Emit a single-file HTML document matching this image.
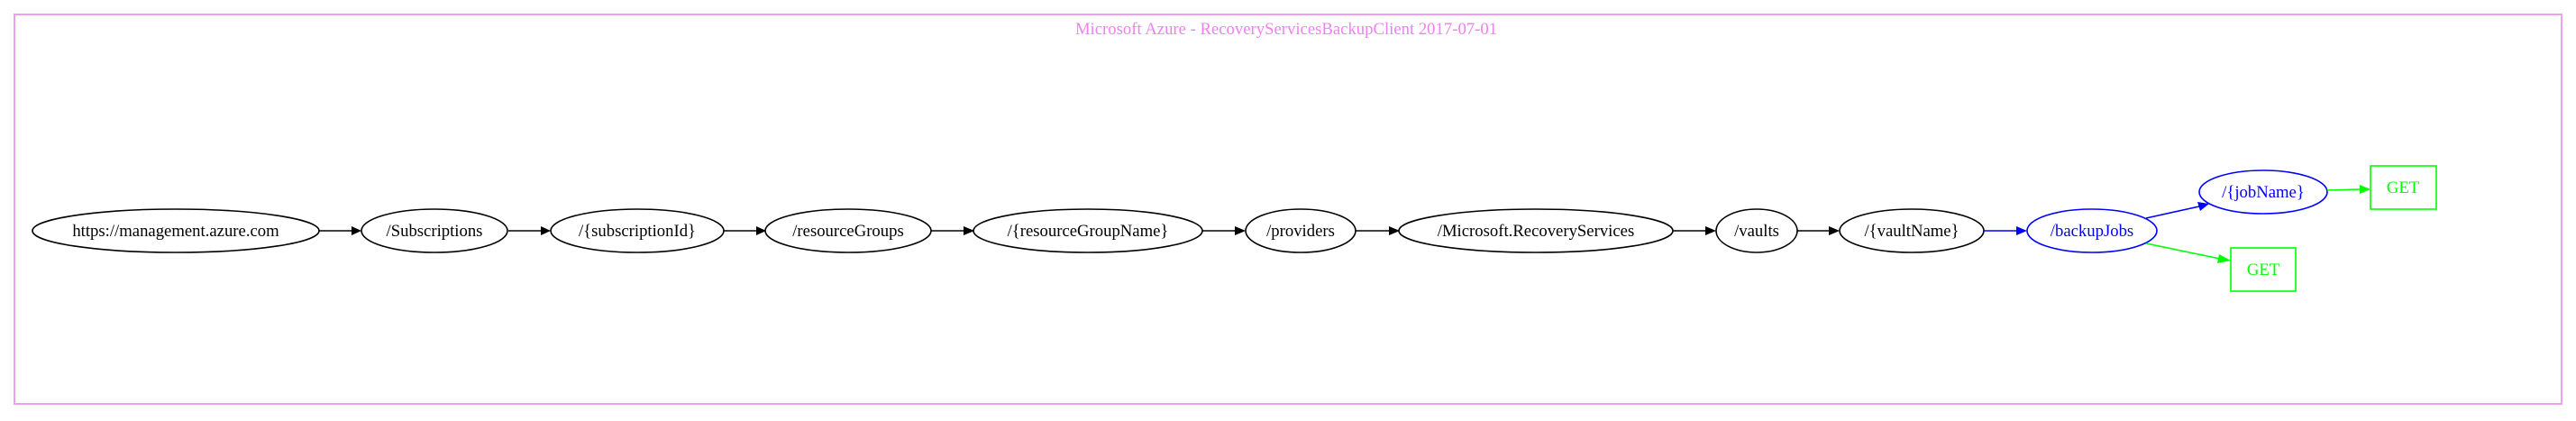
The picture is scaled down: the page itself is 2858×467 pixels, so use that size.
<!DOCTYPE html>
<html><head><meta charset="utf-8"><style>
html,body{margin:0;padding:0;background:#fff;}
svg{display:block;}
text{font-family:"Liberation Serif",serif;font-size:18.7px;}
</style></head><body>
<svg width="2858" height="467" viewBox="0 0 2858 467" xmlns="http://www.w3.org/2000/svg">
<defs>
<marker id="ab" markerWidth="10" markerHeight="8" refX="10" refY="4" orient="auto" markerUnits="userSpaceOnUse" viewBox="0 0 10 8"><path d="M0,0 L10,4 L0,8 z" fill="#000"/></marker>
</defs>
<rect x="16" y="16" width="2826" height="432" fill="none" stroke="#f0a0f0" stroke-width="2"/>
<text x="1427" y="38" text-anchor="middle" fill="#f080f0">Microsoft Azure - RecoveryServicesBackupClient 2017-07-01</text>
<g fill="none" stroke="#000" stroke-width="1.6">
<ellipse cx="195" cy="256" rx="159" ry="24"/>
<ellipse cx="482" cy="256" rx="81" ry="24"/>
<ellipse cx="707" cy="256" rx="96" ry="24"/>
<ellipse cx="941" cy="256" rx="92" ry="24"/>
<ellipse cx="1207" cy="256" rx="127" ry="24"/>
<ellipse cx="1443" cy="256" rx="61" ry="24"/>
<ellipse cx="1704" cy="256" rx="152" ry="24"/>
<ellipse cx="1949" cy="256" rx="45" ry="24"/>
<ellipse cx="2121" cy="256" rx="80" ry="24"/>
</g>
<g stroke="#0000ff" stroke-width="1.6" fill="none">
<ellipse cx="2321" cy="256" rx="72" ry="24"/>
<ellipse cx="2511" cy="213" rx="71" ry="24"/>
</g>
<g stroke="#00ff00" stroke-width="1.6" fill="none">
<rect x="2630" y="184" width="73" height="48"/>
<rect x="2475" y="275" width="72" height="48"/>
</g>
<g stroke="#000" stroke-width="1.6">
<line x1="354" y1="256" x2="390" y2="256"/>
<line x1="564" y1="256" x2="600" y2="256"/>
<line x1="803" y1="256" x2="839" y2="256"/>
<line x1="1033" y1="256" x2="1069" y2="256"/>
<line x1="1334" y1="256" x2="1370" y2="256"/>
<line x1="1504" y1="256" x2="1541" y2="256"/>
<line x1="1856" y1="256" x2="1892" y2="256"/>
<line x1="1994" y1="256" x2="2029" y2="256"/>
</g>
<g fill="#000">
<path d="M390,251 L401,256 L390,261 z"/>
<path d="M600,251 L611,256 L600,261 z"/>
<path d="M839,251 L850,256 L839,261 z"/>
<path d="M1069,251 L1081,256 L1069,261 z"/>
<path d="M1370,251 L1382,256 L1370,261 z"/>
<path d="M1541,251 L1553,256 L1541,261 z"/>
<path d="M1892,251 L1904,256 L1892,261 z"/>
<path d="M2029,251 L2041,256 L2029,261 z"/>
</g>
<line x1="2201" y1="256" x2="2237" y2="256" stroke="#0000ff" stroke-width="1.6"/>
<path d="M2237,251 L2249,256 L2237,261 z" fill="#0000ff"/>
<line x1="2381" y1="242" x2="2440" y2="229" stroke="#0000ff" stroke-width="1.6"/>
<path d="M2438,224 L2451,226 L2441,234 z" fill="#0000ff"/>
<line x1="2381" y1="270" x2="2463" y2="287" stroke="#00ff00" stroke-width="1.6"/>
<path d="M2462,282 L2475,289 L2460,292 z" fill="#00ff00"/>
<line x1="2582" y1="211" x2="2618" y2="210" stroke="#00ff00" stroke-width="1.6"/>
<path d="M2618,205 L2630,210 L2618,215 z" fill="#00ff00"/>
<g text-anchor="middle">
<text x="195" y="262">https://management.azure.com</text>
<text x="482" y="262">/Subscriptions</text>
<text x="707" y="262">/{subscriptionId}</text>
<text x="941" y="262">/resourceGroups</text>
<text x="1207" y="262">/{resourceGroupName}</text>
<text x="1443" y="262">/providers</text>
<text x="1704" y="262">/Microsoft.RecoveryServices</text>
<text x="1949" y="262">/vaults</text>
<text x="2121" y="262">/{vaultName}</text>
<text x="2321" y="262" fill="#0000ff">/backupJobs</text>
<text x="2511" y="219" fill="#0000ff">/{jobName}</text>
<text x="2666" y="214" fill="#00ff00">GET</text>
<text x="2511" y="305" fill="#00ff00">GET</text>
</g>
</svg>
</body></html>
